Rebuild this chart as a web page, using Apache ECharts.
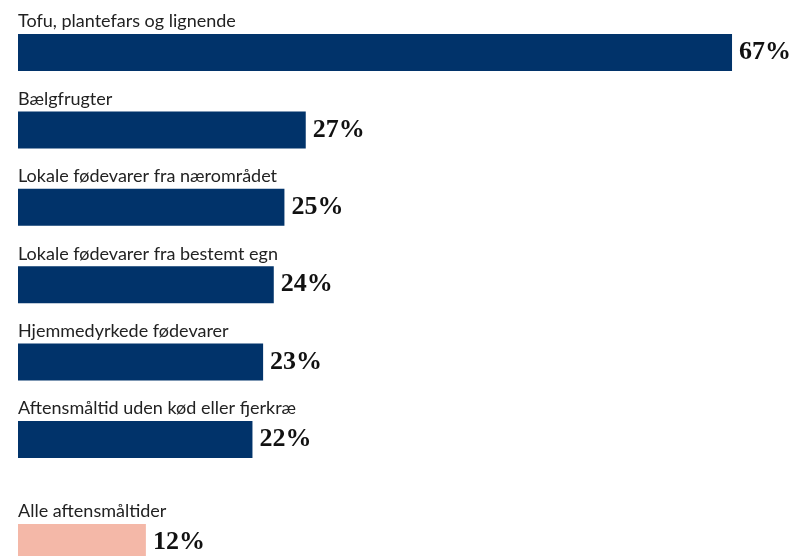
<!DOCTYPE html>
<html>
<head>
<meta charset="utf-8">
<script src="https://cdn.jsdelivr.net/npm/echarts@6/dist/echarts.min.js"></script>
<style>
  html, body { margin: 0; padding: 0; background: #fff; }
  #chart { width: 792px; height: 556px; }
</style>
</head>
<body>
<div id="chart"></div>
<script>
// Main group of foods
const categories = [
  'Tofu, plantefars og lignende',
  'Bælgfrugter',
  'Lokale fødevarer fra nærområdet',
  'Lokale fødevarer fra bestemt egn',
  'Hjemmedyrkede fødevarer',
  'Aftensmåltid uden kød eller fjerkræ'
];
const values = [67, 27, 25, 24, 23, 22];

// Reference row
const refCategories = ['Alle aftensmåltider'];
const refValues = [12];

const NAVY = '#01336A';
const PINK = '#F4B8A8';

const chart = echarts.init(document.getElementById('chart'));

function yAxisFor(cats, gridIndex) {
  return {
    type: 'category',
    gridIndex: gridIndex,
    data: cats,
    inverse: true,
    axisLine: { show: false },
    axisTick: { show: false },
    axisLabel: {
      inside: true,
      margin: 0,
      align: 'left',
      verticalAlign: 'bottom',
      padding: [0, 0, 22, 0],
      fontFamily: 'Lato',
      fontSize: 18,
      color: '#222'
    }
  };
}

function xAxisFor(gridIndex) {
  return { type: 'value', gridIndex: gridIndex, min: 0, max: 70, show: false };
}

const valueLabel = {
  show: true,
  position: 'right',
  distance: 7,
  formatter: '{c}%',
  fontFamily: "'Liberation Serif', 'Times New Roman', serif",
  fontWeight: 'bold',
  fontSize: 26,
  color: '#111'
};

chart.setOption({
  animation: false,
  grid: [
    { left: 18, right: 28, top: 13.8, height: 464.4, outerBoundsMode: 'none' },
    // the last row runs past the bottom edge of the canvas
    { left: 18, right: 28, top: 503.8, height: 77.4, outerBoundsMode: 'none' }
  ],
  xAxis: [xAxisFor(0), xAxisFor(1)],
  yAxis: [yAxisFor(categories, 0), yAxisFor(refCategories, 1)],
  series: [
    {
      type: 'bar',
      xAxisIndex: 0,
      yAxisIndex: 0,
      data: values,
      barWidth: 37,
      itemStyle: { color: NAVY },
      label: valueLabel
    },
    {
      type: 'bar',
      xAxisIndex: 1,
      yAxisIndex: 1,
      data: refValues,
      barWidth: 37,
      clip: false,
      itemStyle: { color: PINK },
      label: valueLabel
    }
  ]
});
</script>
</body>
</html>
